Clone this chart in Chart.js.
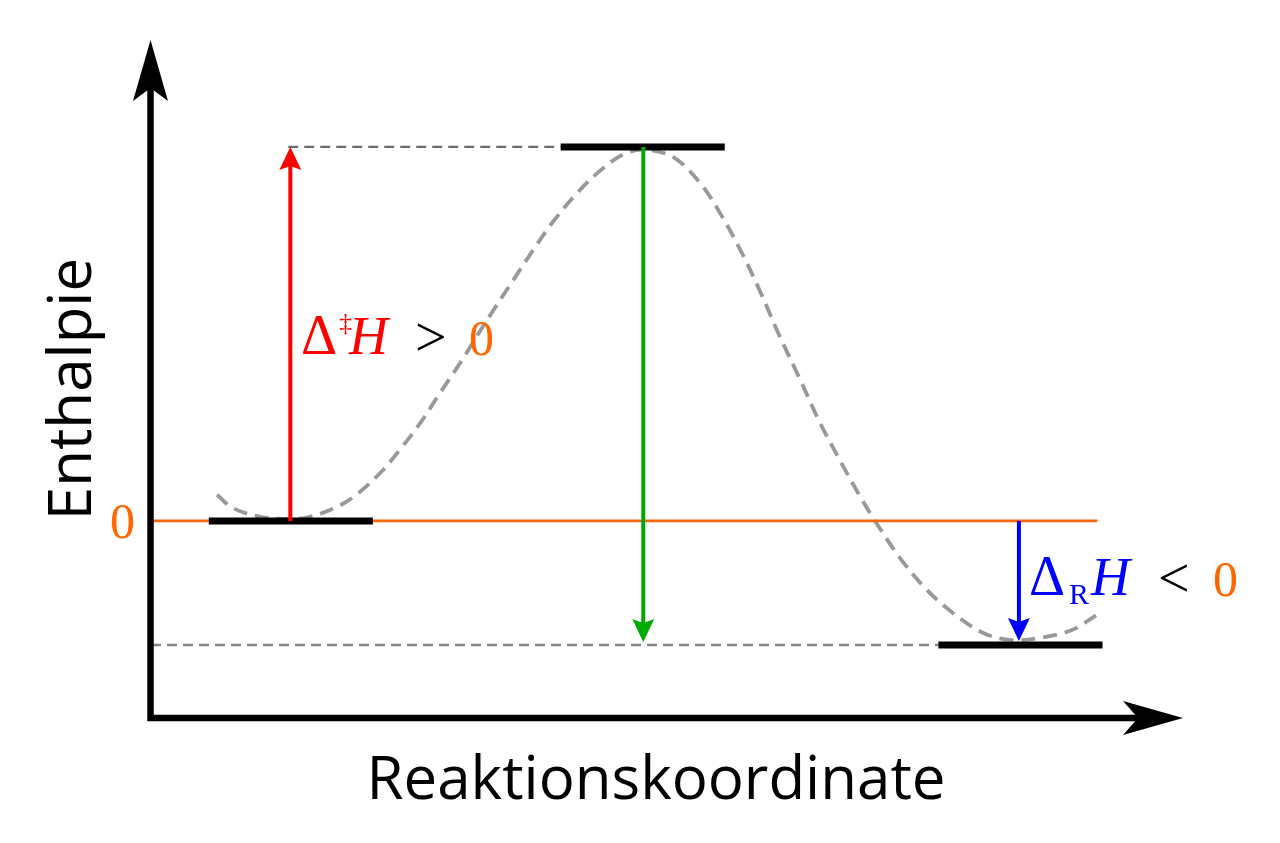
<!DOCTYPE html>
<html><head><meta charset="utf-8">
<script src="https://cdn.jsdelivr.net/npm/chart.js@4"></script>
<style>html,body{margin:0;padding:0;background:#fff}#wrap{width:1280px;height:843px;position:relative}</style>
</head><body><div id="wrap"><canvas id="c"></canvas></div>
<script>
// ---------- data ----------
const xTitle = 'Reaktionskoordinate';
const yTitle = 'Enthalpie';
const levelNames = ['Edukte', 'Übergangszustand', 'Produkte'];
const levelEnthalpy = [0, 100, -33.2];
const levelFrom = [5.6, 39.7, 76.3];
const levelTo = [21.5, 55.6, 92.2];
const curveX = [6.4, 7.9, 10.6, 13.5, 15.4, 18.0, 19.9, 22.2, 24.1, 26.1, 28.0, 29.9, 31.6, 33.1, 35.1, 37.0, 38.9, 41.3, 43.5, 45.7, 47.7,
                50.6, 53.2, 55.1, 57.1, 59.0, 60.9, 62.9, 64.8, 66.8, 68.7, 70.3, 72.6, 75.2, 77.7, 80.6, 83.2, 86.1, 89.3, 91.7];
const curveY = [7.0, 3.5, 1.1, 0.5, 1.1, 3.7, 7.0, 12.8, 19.0, 26.2, 34.2, 42.0, 49.5, 56.0, 64.4, 72.3, 79.8, 87.7, 93.6, 97.9, 99.3,
                97.3, 90.4, 82.5, 72.5, 61.5, 49.5, 37.8, 26.4, 16.0, 6.6, -0.6, -10.0, -18.5, -24.6, -29.9, -31.8, -31.3, -29.1, -25.0];
const arrowX = [13.5, 47.7, 84.1];
const arrowFrom = [0, 100, 0];
const arrowTo = [100, -33.2, -33.2];
const zeroLineRange = [0, 91.7];
const tsGuideRange = [13.3, 39.7];
const productGuideRange = [0, 76.3];
const xRange = [0, 100];
const yRange = [-52.7, 128.6];
const zeroTick = '0';

// ---------- styles ----------
const ORANGE = '#ff6600';
const arrowColors = ['#ff0000', '#00aa00', '#0000ff'];
const arrowInset = [0, 3, 4];

const pts = (xs, ys) => xs.map((x, i) => ({x, y: ys[i]}));

const datasets = [];
levelNames.forEach((n, i) => {
  datasets.push({label: n, data: [{x: levelFrom[i], y: levelEnthalpy[i]}, {x: levelTo[i], y: levelEnthalpy[i]}],
    borderColor: '#000', borderWidth: 7, borderCapStyle: 'butt', order: 1});
});
datasets.push({label: 'Null', data: [{x: zeroLineRange[0], y: 0}, {x: zeroLineRange[1], y: 0}],
  borderColor: ORANGE, borderWidth: 2.8, order: 3});
datasets.push({label: 'TS-Hilfslinie', data: [{x: tsGuideRange[0], y: levelEnthalpy[1]}, {x: tsGuideRange[1], y: levelEnthalpy[1]}],
  borderColor: '#6c6c6c', borderWidth: 2.2, borderDash: [10, 6], order: 4});
datasets.push({label: 'P-Hilfslinie', data: [{x: productGuideRange[0], y: levelEnthalpy[2]}, {x: productGuideRange[1], y: levelEnthalpy[2]}],
  borderColor: '#858585', borderWidth: 2.5, borderDash: [10, 6], order: 4});
datasets.push({label: 'Profil', data: pts(curveX, curveY), borderColor: '#999', borderWidth: 3.8,
  borderDash: [14, 8], tension: 0.35, order: 5});
datasets.forEach(d => { d.showLine = true; d.pointRadius = 0; d.clip = false; d.fill = false; });

function head(ctx, tx, ty, dx, dy, len, hw, notch, color) {
  const bx = tx - dx * len, by = ty - dy * len;
  const nx = tx - dx * (len - notch), ny = ty - dy * (len - notch);
  const px = -dy, py = dx;
  ctx.fillStyle = color;
  ctx.beginPath();
  ctx.moveTo(tx, ty);
  ctx.lineTo(bx + px * hw, by + py * hw);
  ctx.lineTo(nx, ny);
  ctx.lineTo(bx - px * hw, by - py * hw);
  ctx.closePath();
  ctx.fill();
}

function txt(ctx, s, x, y, font, color) {
  ctx.font = font; ctx.fillStyle = color; ctx.textAlign = 'left'; ctx.textBaseline = 'alphabetic';
  ctx.fillText(s, x, y);
}

const diagram = {
  id: 'diagram',
  afterDatasetsDraw(chart) {
    const {ctx, scales: {x: xs, y: ys}} = chart;
    ctx.save();
    // reaction arrows
    arrowX.forEach((v, i) => {
      const px = xs.getPixelForValue(v);
      const p0 = ys.getPixelForValue(arrowFrom[i]);
      let p1 = ys.getPixelForValue(arrowTo[i]);
      const dir = Math.sign(p1 - p0);
      p1 -= dir * arrowInset[i];
      const hl = 23;
      ctx.strokeStyle = arrowColors[i]; ctx.lineWidth = 4; ctx.lineCap = 'butt';
      ctx.beginPath(); ctx.moveTo(px, p0); ctx.lineTo(px, p1 - dir * (hl - 6)); ctx.stroke();
      head(ctx, px, p1, 0, dir, hl, 11, 4, arrowColors[i]);
    });
    // axes
    const ox = xs.getPixelForValue(xRange[0]) - 0.5, oy = ys.getPixelForValue(yRange[0]);
    const ty = ys.getPixelForValue(yRange[1]), tx = xs.getPixelForValue(xRange[1]);
    ctx.strokeStyle = '#000'; ctx.lineWidth = 6.5; ctx.lineJoin = 'miter'; ctx.lineCap = 'butt';
    ctx.beginPath(); ctx.moveTo(ox, ty + 44); ctx.lineTo(ox, oy); ctx.lineTo(tx - 44, oy); ctx.stroke();
    head(ctx, ox, ty, 0, -1, 61, 17.5, 13, '#000');
    head(ctx, tx, oy, 1, 0, 60, 17, 15, '#000');
    // axis titles
    ctx.font = '60px "Open Sans"'; ctx.fillStyle = '#000'; ctx.textAlign = 'center'; ctx.textBaseline = 'alphabetic';
    ctx.fillText(xTitle, 656, 799);
    ctx.save(); ctx.translate(91, 389); ctx.rotate(-Math.PI / 2); ctx.fillText(yTitle, 0, 0); ctx.restore();
    // zero tick
    const z = ys.getPixelForValue(0);
    txt(ctx, zeroTick, 110, z + 17, '50px "Liberation Serif"', ORANGE);
    // activation enthalpy label
    const SER = '"Liberation Serif"';
    txt(ctx, 'Δ', 301, 354, '56px ' + SER, '#ff0000');
    txt(ctx, '‡', 339, 331, '26px ' + SER, '#ff0000');
    txt(ctx, 'H', 349, 354, 'italic 54px ' + SER, '#ff0000');
    txt(ctx, '>', 415, 356, '56px ' + SER, '#000');
    txt(ctx, '0', 469, 355, '50px ' + SER, ORANGE);
    // reaction enthalpy label
    txt(ctx, 'Δ', 1029, 595, '56px ' + SER, '#0000ff');
    txt(ctx, 'R', 1069, 604, '30px ' + SER, '#0000ff');
    txt(ctx, 'H', 1091, 595, 'italic 54px ' + SER, '#0000ff');
    txt(ctx, '<', 1158, 597, '56px ' + SER, '#000');
    txt(ctx, '0', 1213, 596, '50px ' + SER, ORANGE);
    ctx.restore();
  }
};

new Chart(document.getElementById('c'), {
  type: 'scatter',
  data: {datasets},
  options: {
    responsive: true, maintainAspectRatio: false, animation: false,
    layout: {padding: {left: 151, right: 97, top: 40, bottom: 125}},
    plugins: {legend: {display: false}, tooltip: {enabled: false}},
    scales: {
      x: {type: 'linear', min: xRange[0], max: xRange[1], display: false},
      y: {type: 'linear', min: yRange[0], max: yRange[1], display: false}
    }
  },
  plugins: [diagram]
});
</script></body></html>
